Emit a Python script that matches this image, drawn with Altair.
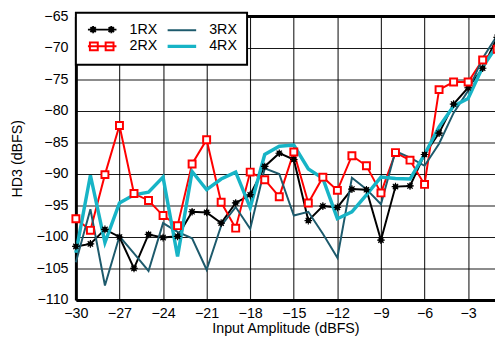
import altair as alt
import pandas as pd

x_vals = list(range(-30, 0))
series_names = ["1RX", "2RX", "3RX", "4RX"]

rx1 = [-101.5, -101.1, -98.8, -100.0, -105.0, -99.6, -100.1, -99.9, -96.0, -96.1,
       -97.8, -94.6, -93.3, -88.8, -86.7, -87.7, -97.4, -95.1, -95.3, -92.4,
       -92.5, -100.5, -92.0, -91.9, -86.9, -83.5, -78.9, -76.3, -73.2, -68.3]
rx2 = [-97.1, -98.95, -90.1, -82.3, -93.1, -94.2, -96.6, -98.2, -88.4, -84.55,
       -94.5, -98.6, -89.7, -90.9, -93.6, -86.5, -94.6, -90.5, -92.6, -87.1,
       -88.7, -93.0, -86.6, -87.8, -91.65, -76.6, -75.4, -75.4, -71.9, -70.2]
rx3 = [-104.0, -95.6, -107.7, -99.9, -102.6, -105.4, -97.8, -99.2, -100.2, -105.2,
       -98.2, -95.25, -98.7, -89.1, -90.0, -96.6, -96.0, -99.5, -103.3, -90.6,
       -92.4, -94.8, -86.35, -87.4, -88.7, -85.2, -80.3, -76.8, -71.6, -68.0]
rx4 = [-102.5, -90.2, -100.9, -94.6, -93.3, -92.9, -90.5, -103.1, -89.6, -92.5,
       -90.8, -89.7, -95.35, -86.9, -85.6, -85.4, -89.2, -90.7, -97.1, -96.0,
       -93.3, -90.5, -90.7, -90.8, -86.9, -82.5, -79.2, -78.0, -73.0, -69.6]

colors = ["#000000", "#ff0000", "#1d5a6c", "#17b4c6"]
widths = [2, 2, 2, 3.5]

x_ticks = list(range(-30, 0, 3))
y_ticks = list(range(-110, -64, 5))

rows = []
for name, vals in zip(series_names, [rx1, rx2, rx3, rx4]):
    for xv, yv in zip(x_vals, vals):
        rows.append({"x": xv, "y": yv, "series": name})
df = pd.DataFrame(rows)

FONT = "Liberation Sans"
FS = 14.5

x_scale = alt.Scale(domain=[-30, -1.15], nice=False, zero=False)
y_scale = alt.Scale(domain=[y_ticks[0], y_ticks[-1]], nice=False, zero=False)

common_axis = dict(ticks=False, grid=True, domainWidth=3, domainColor="black",
                   labelFlush=False, labelFontSize=FS, titleFontSize=FS,
                   titleFontWeight="normal", labelColor="black", titleColor="black",
                   gridColor="black", gridOpacity=0.9, gridWidth=1.1)
x_axis = alt.Axis(values=x_ticks, title="Input Amplitude (dBFS)",
                  labelPadding=7, titlePadding=2, **common_axis)
y_axis = alt.Axis(values=y_ticks, title="HD3 (dBFS)",
                  labelPadding=8, titlePadding=12, **common_axis)

X = alt.X("x:Q", scale=x_scale, axis=x_axis)
Y = alt.Y("y:Q", scale=y_scale, axis=y_axis)

base = alt.Chart(df)

line_layers = []
for name, c, w in zip(series_names, colors, widths):
    line_layers.append(
        base.transform_filter(alt.datum.series == name)
        .mark_line(color=c, strokeWidth=w, strokeJoin="miter")
        .encode(x=X, y=Y)
    )

star_path = ("M-1,0L1,0M0,-1L0,1M-0.7,-0.7L0.7,0.7M-0.7,0.7L0.7,-0.7"
             "M-0.55,0A0.55,0.55,0,1,0,0.55,0A0.55,0.55,0,1,0,-0.55,0Z")

m1 = (base.transform_filter(alt.datum.series == "1RX")
      .mark_point(shape=star_path, filled=True, size=60, color="black",
                  stroke="black", strokeWidth=1.2, opacity=1)
      .encode(x=X, y=Y))
m2 = (base.transform_filter(alt.datum.series == "2RX")
      .mark_point(shape="square", filled=True, size=50, fill="white",
                  stroke="red", strokeWidth=2, opacity=1)
      .encode(x=X, y=Y))

top_border = (alt.Chart(pd.DataFrame({"y": [y_ticks[-1]]}))
              .mark_rule(color="black", strokeWidth=3)
              .encode(y=alt.Y("y:Q", scale=y_scale, axis=y_axis)))

# legend symbol paths (units of 5px)
leg_line = "M-1,0H4.8"
leg_1 = (leg_line +
         "M-0.7,0L0.8,0M0.05,-0.75L0.05,0.75M-0.5,-0.5L0.6,0.5M-0.5,0.5L0.6,-0.5"
         "M3.0,0L4.5,0M3.75,-0.75L3.75,0.75M3.2,-0.5L4.3,0.5M3.2,0.5L4.3,-0.5"
         "M-0.3,0A0.35,0.35,0,1,0,0.4,0A0.35,0.35,0,1,0,-0.3,0"
         "M3.4,0A0.35,0.35,0,1,0,4.1,0A0.35,0.35,0,1,0,3.4,0")
leg_2 = (leg_line +
         "M-0.6,-0.8H1.0V0.8H-0.6Z"
         "M2.6,-0.8H4.2V0.8H2.6Z")
leg_3 = leg_line
leg_4 = "M-1,-0.14H4.8M-1,0.14H4.8"

legend_props = dict(
    orient="none", legendX=0, legendY=-4, columns=2, fillColor="white",
    strokeColor="black", padding=10, labelFontSize=FS,
    labelFont=FONT, labelColor="black", symbolSize=100, symbolStrokeWidth=2,
    labelOffset=30, rowPadding=1, columnPadding=6, symbolFillColor="transparent",
    title=None,
)

legend_layer = (base.transform_filter("datum.y > 0")
                .mark_point(filled=False, opacity=1, size=100, strokeWidth=2)
                .encode(x=X, y=Y,
                        color=alt.Color("series:N",
                                        scale=alt.Scale(domain=series_names, range=colors),
                                        legend=alt.Legend(**legend_props)),
                        shape=alt.Shape("series:N",
                                        scale=alt.Scale(domain=series_names,
                                                        range=[leg_1, leg_2, leg_3, leg_4]),
                                        legend=alt.Legend(**legend_props))))

PLOT_W, PLOT_H = 426, 288
PAD = {"left": 69, "top": 6, "right": 0, "bottom": 38}

chart = alt.layer(*line_layers, m1, m2, top_border, legend_layer).properties(
    width=PLOT_W, height=PLOT_H, padding=PAD,
    autosize=alt.AutoSizeParams(type="none"),
).configure(font=FONT).configure_view(stroke=None).configure_legend(
    strokeWidth=2,
)

chart.save("out.html", embed_options={"renderer": "svg", "actions": False})
